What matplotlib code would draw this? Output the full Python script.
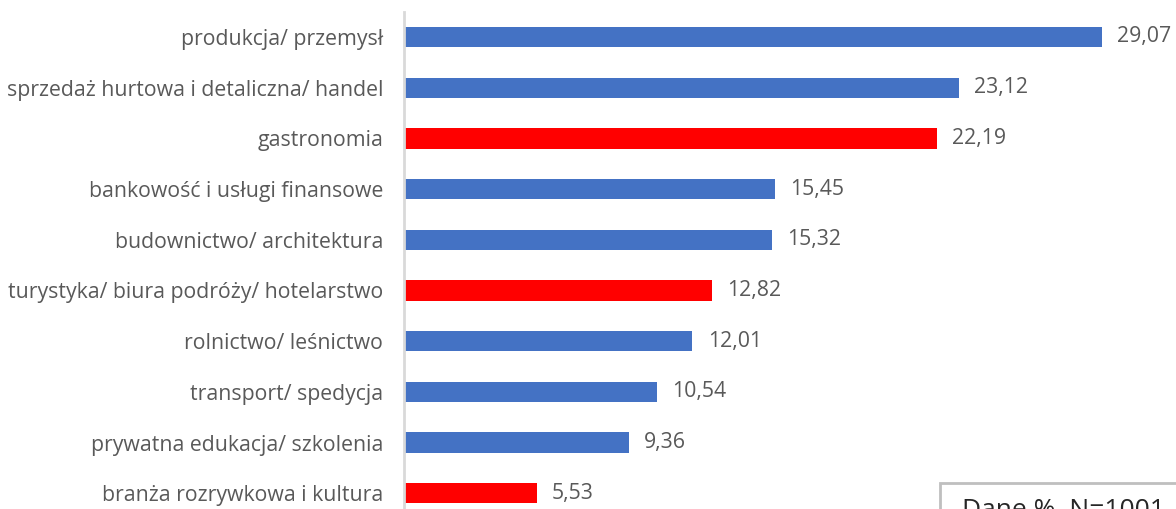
import matplotlib
matplotlib.use("Agg")
import matplotlib.pyplot as plt
from matplotlib.patches import Rectangle

categories = [
    "produkcja/ przemysł",
    "sprzedaż hurtowa i detaliczna/ handel",
    "gastronomia",
    "bankowość i usługi finansowe",
    "budownictwo/ architektura",
    "turystyka/ biura podróży/ hotelarstwo",
    "rolnictwo/ leśnictwo",
    "transport/ spedycja",
    "prywatna edukacja/ szkolenia",
    "branża rozrywkowa i kultura",
]
values = [29.07, 23.12, 22.19, 15.45, 15.32, 12.82, 12.01, 10.54, 9.36, 5.53]
highlight = [False, False, True, False, False, True, False, False, False, True]

BLUE = "#4472C4"
RED = "#FF0000"
TXT = "#595959"
FONT = "Open Sans"

W, H = 1176, 509
fig = plt.figure(figsize=(W / 100, H / 100), dpi=100)
ax_left = 404 / W
ax_top = 12
ax = fig.add_axes([ax_left, 0, 1 - ax_left, (H - ax_top) / H])

colors = [RED if h else BLUE for h in highlight]
pos = list(range(len(categories)))
ax.barh(pos, values, height=0.4, color=colors, zorder=2)

ax.set_xlim(0, 772 / 24.01)
ax.set_ylim(9.31, -0.493)

for p, v in zip(pos, values):
    ax.annotate(f"{v:.2f}".replace(".", ","), (v, p), xytext=(11, 0),
                textcoords="offset points", va="center", ha="left",
                fontsize=15.3, color=TXT, family=FONT)

ax.set_yticks(pos)
ax.set_yticklabels(categories, fontsize=15.3, color=TXT, family=FONT)
ax.tick_params(axis="y", length=0, pad=15)
ax.set_xticks([])
for s in ["top", "right", "bottom"]:
    ax.spines[s].set_visible(False)
ax.spines["left"].set_color("#d9d9d9")
ax.spines["left"].set_linewidth(2)

# Source box (partly cut off at the figure edge)
fig.patches.append(Rectangle((940 / W, -0.05), 0.3, (H - 483) / H + 0.05,
                             transform=fig.transFigure, fill=False,
                             edgecolor="#bfbfbf", linewidth=2, zorder=5))
fig.text(962 / W, (H - 498) / H, "Dane %, N=1001", ha="left", va="top",
         fontsize=19, color="#262626", family=FONT)

fig.savefig("out.png", dpi=100)
